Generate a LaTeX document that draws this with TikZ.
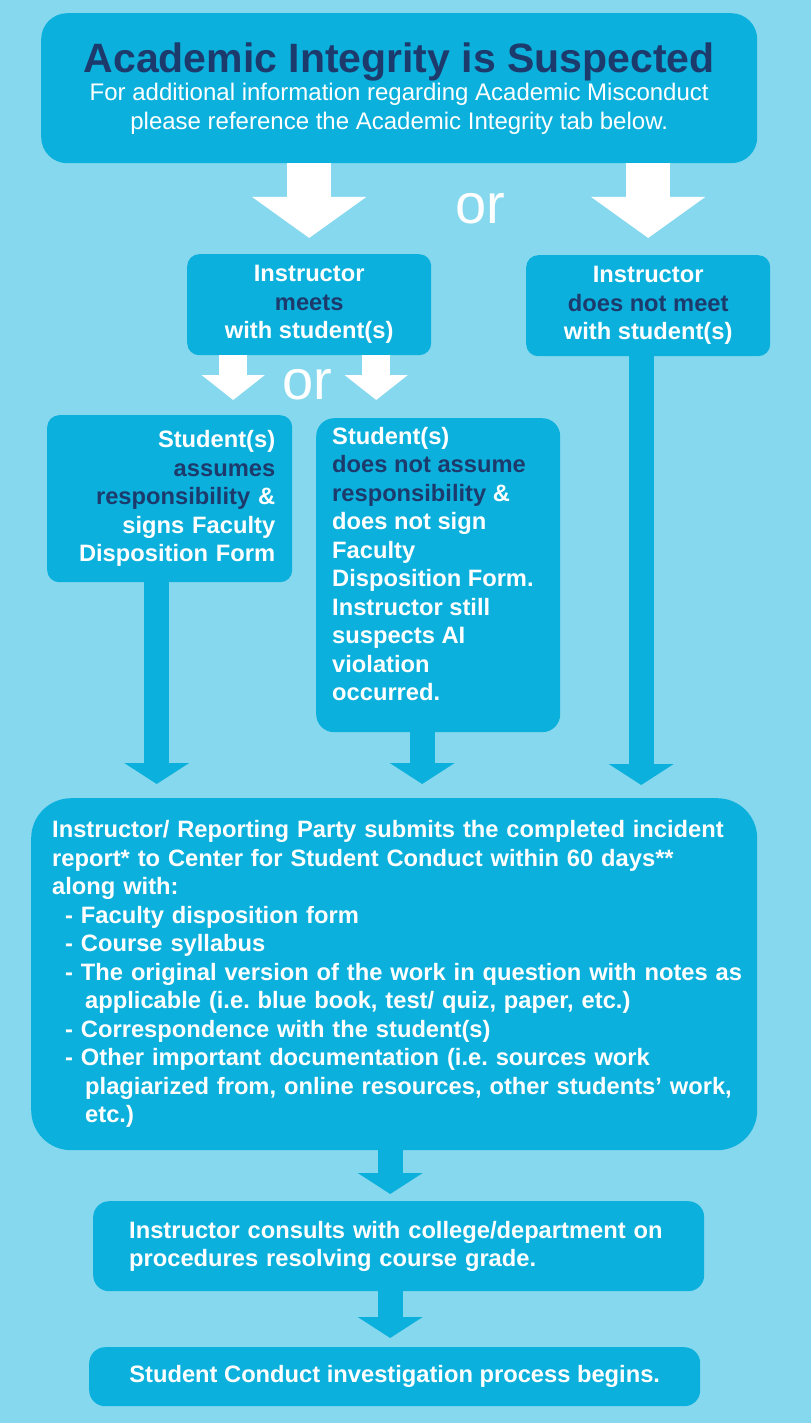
\documentclass[tikz,border=0pt]{standalone}
\usepackage{fontspec}
\setmainfont{Liberation Sans}
\usetikzlibrary{arrows.meta,positioning}
\definecolor{bgblue}{HTML}{86D8EE}
\definecolor{boxblue}{HTML}{0BB1DC}
\definecolor{navy}{HTML}{1D3A6C}
\newcommand{\titlefnt}{\bfseries\fontsize{41}{46}\selectfont}
\newcommand{\subfnt}{\mdseries\fontsize{24}{29}\selectfont}
\frenchspacing
\tikzset{
  flowbox/.style={fill=boxblue, text=white, inner sep=0pt, rounded corners=#1, anchor=north west},
  flowbox/.default=12pt,
  ortext/.style={text=white, inner sep=0pt, font=\mdseries\fontsize{56}{56}\selectfont},
  bigwhite/.style={draw=white, line width=44pt, line cap=butt, -{Triangle[length=41pt, width=112pt]}},
  smallwhite/.style={draw=white, line width=28pt, line cap=butt, -{Triangle[length=25pt, width=62pt]}},
  bluearrow/.style={draw=boxblue, line width=25pt, line cap=butt, -{Triangle[length=21pt, width=64pt]}}
}
\begin{document}
\begin{tikzpicture}[x=1pt, y=-1pt, font=\bfseries\fontsize{23.7}{28.5}\selectfont, line join=round]
  % background
  \fill[bgblue] (0,0) rectangle (811,1423);
  \useasboundingbox (0,0) rectangle (811,1423);
  % top box
  \node[flowbox=26pt, minimum width=716pt, minimum height=150pt, align=center] (top) at (41,13)
    {{\titlefnt\textcolor{navy}{Academic Integrity is Suspected}}\\
     {\subfnt For additional information regarding Academic Misconduct}\\
     {\subfnt please reference the Academic Integrity tab below.}};
  \node[ortext] (or1) at (480,209) {or};
  % instructor boxes
  \node[flowbox, minimum width=244pt, minimum height=101pt, align=center] (meets) at (187,254)
    {Instructor\\ \textcolor{navy}{meets}\\ with student(s)};
  \node[flowbox, minimum width=244pt, minimum height=101pt, align=center] (nomeet) at (526,255)
    {Instructor\\ \textcolor{navy}{does not meet}\\ with student(s)};
  \node[ortext] (or2) at (307,385) {or};
  % student boxes
  \node[flowbox, minimum width=245pt, minimum height=167pt, text width=211pt, align=right] (assume) at (47,415)
    {Student(s)\\ \textcolor{navy}{assumes}\\ \textcolor{navy}{responsibility} \&\\ signs Faculty\\ Disposition Form};
  \node[flowbox=18pt, inner xsep=16pt, inner ysep=9pt] (notassume) at (316,418)
    {\parbox[t][296pt][t]{212pt}{\raggedright Student(s)\\ \textcolor{navy}{does not assume}\\
     \textcolor{navy}{responsibility} \&\\ does not sign\\ Faculty\\ Disposition Form.\\
     Instructor still\\ suspects AI\\ violation\\ occurred.}};
  % report box
  \node[flowbox=40pt, minimum width=726pt, minimum height=352pt, text width=684pt, align=left] (report) at (31,798)
    {\mbox{Instructor/ Reporting Party submits the completed incident}\\
     report* to Center for Student Conduct within 60 days**\\
     along with:\\
     \hspace*{13pt}- Faculty disposition form\\
     \hspace*{13pt}- Course syllabus\\
     \hspace*{13pt}\mbox{- The original version of the work in question with notes as}\\
     \hspace*{33pt}applicable (i.e. blue book, test/ quiz, paper, etc.)\\
     \hspace*{13pt}- Correspondence with the student(s)\\
     \hspace*{13pt}- Other important documentation (i.e. sources work\\
     \hspace*{33pt}\mbox{plagiarized from, online resources, other students’ work,}\\
     \hspace*{33pt}etc.)};
  % last steps
  \node[flowbox=16pt, minimum width=611pt, minimum height=90pt, text width=539pt, align=left] (consults) at (93,1201)
    {\mbox{Instructor consults with college/department on}\\ procedures resolving course grade.};
  \node[flowbox=16pt, minimum width=611pt, minimum height=59pt, align=center] (begins) at (89,1347)
    {Student Conduct investigation process begins.};
  % white arrows
  \draw[bigwhite, shorten >=16pt] (top.south -| meets) -- (meets.north);
  \draw[bigwhite, shorten >=17pt] (top.south -| nomeet) -- (nomeet.north);
  \coordinate (m1) at ([xshift=-76pt]meets.south);
  \coordinate (m2) at ([xshift=67pt]meets.south);
  \draw[smallwhite, shorten >=15pt] (m1) -- (m1 |- assume.north);
  \draw[smallwhite, shorten >=18pt] (m2) -- (m2 |- notassume.north);
  % blue arrows
  \coordinate (s1) at ([xshift=-13pt]assume.south);
  \coordinate (s2) at ([xshift=-16pt]notassume.south);
  \coordinate (s3) at ([xshift=-7pt]nomeet.south);
  \draw[bluearrow, shorten >=14pt] (s1) -- (s1 |- report.north);
  \draw[bluearrow, shorten >=14pt] (s2) -- (s2 |- report.north);
  \draw[bluearrow, shorten >=13pt] (s3) -- (s3 |- report.north);
  \coordinate (r1) at ([xshift=-4pt]report.south);
  \draw[bluearrow, shorten >=7pt] (r1) -- (r1 |- consults.north);
  \coordinate (c1) at (r1 |- consults.south);
  \draw[bluearrow, shorten >=9pt] (c1) -- (c1 |- begins.north);
\end{tikzpicture}
\end{document}
